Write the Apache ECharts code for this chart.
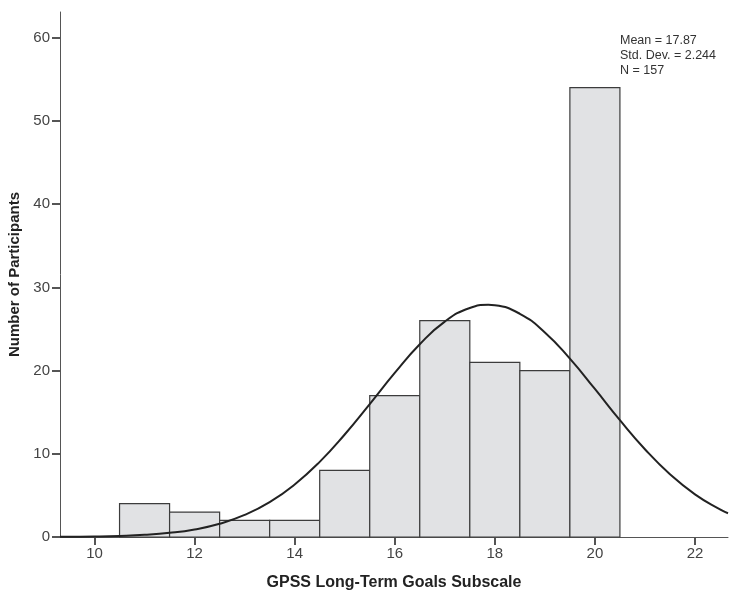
<!DOCTYPE html>
<html>
<head>
<meta charset="utf-8">
<script src="https://cdn.jsdelivr.net/npm/echarts@6/dist/echarts.min.js"></script>
<style>html,body{margin:0;padding:0;background:#fff;}#c{width:731px;height:597px;}</style>
</head>
<body>
<div id="c"></div>
<script>
// Histogram bins (centre of each 1-unit bin) and counts
const binCenters = [11, 12, 13, 14, 15, 16, 17, 18, 19, 20];
const counts = [4, 3, 2, 2, 8, 17, 26, 21, 20, 54];
// Normal curve points
const curveX = [9.31, 9.5, 10, 10.5, 11, 11.5, 12, 12.5, 13, 13.5, 14, 14.5, 15, 15.5, 16, 16.5, 17, 17.5, 17.87, 18, 18.5, 19, 19.5, 20, 20.5, 21, 21.5, 22, 22.5, 22.66];
const curveY = [0.02, 0.03, 0.06, 0.13, 0.26, 0.5, 0.91, 1.59, 2.65, 4.19, 6.31, 9.03, 12.32, 15.98, 19.72, 23.17, 25.89, 27.53, 27.91, 27.86, 26.83, 24.59, 21.44, 17.79, 14.04, 10.55, 7.54, 5.13, 3.32, 2.86];
const xTicks = [10, 12, 14, 16, 18, 20, 22];
const yTicks = [0, 10, 20, 30, 40, 50, 60];
const statsLines = ['Mean = 17.87', 'Std. Dev. = 2.244', 'N = 157'];
const xTitle = 'GPSS Long-Term Goals Subscale';
const yTitle = 'Number of Participants';

const chart = echarts.init(document.getElementById('c'));
const labelStyle = {color: '#444', fontFamily: 'Liberation Sans', fontSize: 15};
chart.setOption({
  animation: false,
  backgroundColor: '#fff',
  grid: {left: 60, right: 3, top: 12, bottom: 60, containLabel: false, outerBoundsMode: 'none'},
  xAxis: {
    type: 'value', min: 9.31, max: 22.66,
    splitLine: {show: false},
    axisLine: {onZero: false, lineStyle: {color: '#555', width: 1}},
    axisTick: {customValues: xTicks, length: 8, lineStyle: {color: '#555', width: 2}},
    axisLabel: Object.assign({customValues: xTicks, margin: 9}, labelStyle),
    name: xTitle, nameLocation: 'middle', nameGap: 38,
    nameTextStyle: {fontFamily: 'Liberation Sans', fontWeight: 'bold', fontSize: 16, color: '#222'}
  },
  yAxis: {
    type: 'value', min: 0, max: 63.1,
    splitLine: {show: false},
    axisLine: {show: true, lineStyle: {color: '#555', width: 1}},
    axisTick: {show: true, customValues: yTicks, length: 8, lineStyle: {color: '#555', width: 2}},
    axisLabel: Object.assign({customValues: yTicks, margin: 10}, labelStyle),
    name: yTitle, nameLocation: 'middle', nameGap: 31,
    nameTextStyle: {fontFamily: 'Liberation Sans', fontWeight: 'bold', fontSize: 15, color: '#222'}
  },
  graphic: [{
    type: 'text', left: 620, top: 33,
    style: {text: statsLines.join('\n'), fontFamily: 'Liberation Sans', fontSize: 12.5, lineHeight: 15, fill: '#333'}
  }],
  series: [{
    type: 'custom',
    data: binCenters.map((c, i) => [c, counts[i]]),
    encode: {x: 0, y: 1},
    renderItem: function (params, api) {
      const c = api.value(0), v = api.value(1);
      const p1 = api.coord([c - 0.5, v]);
      const p2 = api.coord([c + 0.5, 0]);
      return {
        type: 'rect',
        shape: {x: p1[0], y: p1[1], width: p2[0] - p1[0], height: p2[1] - p1[1]},
        style: {fill: '#e1e2e4', stroke: '#3c3c3c', lineWidth: 1.2}
      };
    },
    z: 2
  }, {
    type: 'line',
    data: curveX.map((x, i) => [x, curveY[i]]),
    smooth: true, showSymbol: false, symbol: 'none',
    lineStyle: {color: '#222', width: 2},
    z: 3
  }]
});
</script>
</body>
</html>
